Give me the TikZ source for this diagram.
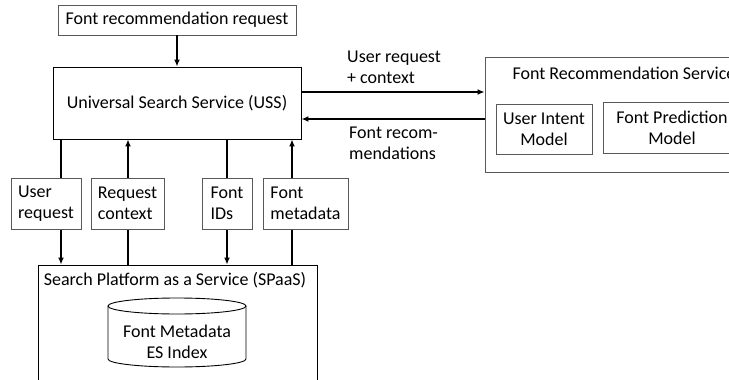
\documentclass[tikz,border=0pt]{standalone}
\usepackage{fontspec}
\setmainfont{Carlito}
\usetikzlibrary{arrows.meta,positioning,backgrounds}
\tikzset{boxy/.style={draw=black,line width=0.9pt,fill=white,inner sep=0},
    greyboxy/.style={draw=black!65,line width=0.9pt,fill=white,inner sep=0},
    labelboxy/.style={greyboxy,align=left,minimum height=51pt},
    flowline/.style={line width=1.6pt,-{Latex[length=7pt,width=6pt]}},
    textonly/.style={inner sep=0,align=left}
}

\begin{document}
\begin{tikzpicture}[x=1pt,y=-1pt,font=\fontsize{18}{21}\selectfont]

\useasboundingbox (0,0) rectangle (729,380);
\clip (0,0) rectangle (729,380);

%% universal search service and request
\node (req) at (177,20) [greyboxy,minimum width=238pt,minimum height=30pt] {Font recommendation request};
\node (uss) at (177,103) [boxy,minimum width=248pt,minimum height=72pt] {Universal Search Service (USS)};

\draw [flowline] (req) -- (uss);

%% font recommendation service

\node (frs) at (627.5,114.5) [greyboxy,minimum width=285pt,minimum height=115pt] {};
\node (frstitle) at (624,73) [textonly] {Font Recommendation Service};
\node (uim) at (544,129) [greyboxy,align=center,minimum width=96pt,minimum height=50pt] {User Intent\\Model};
\node (fpm) at (672,127.5) [greyboxy,align=center,minimum width=138pt,minimum height=51pt] {Font Prediction\\Model};

\draw [flowline] ([yshift=11pt]uss.east) -- ([yshift=11pt]uss.east -| frs.west);
\draw [flowline] ([yshift=-16pt]uss.east -| frs.west) -- ([yshift=-16pt]uss.east);

\node (ctxlabel) at (347,67) [textonly,anchor=west] {User request\\+ context};
\node (reclabel) at (349,143) [textonly,anchor=west] {Font recom-\\mendations};

%% search platform

\node (spaas) at (177.5,342.5) [boxy,minimum width=279pt,minimum height=155pt] {};
\node (spaastitle) at (175,280) [textonly] {Search Platform as a Service (SPaaS)};

\draw [line width=0.9pt,fill=white] (108,306) -- (108,359) arc [start angle=180,end angle=0,x radius=69,y radius=8] -- (246,306);
\draw [line width=0.9pt,fill=white] (177,306) ellipse [x radius=69,y radius=8];
\node (esidx) at (177,342) [textonly,align=center] {Font Metadata\\ES Index};

%% data passed between uss and spaas

\node (ureq) at (46,203.5) [labelboxy,minimum width=70pt] {User\\request};
\node (rctx) at (127.5,203.5) [labelboxy,minimum width=73pt] {Request\\context};
\node (fids) at (227,203.5) [labelboxy,minimum width=50pt] {Font\\IDs};
\node (fmeta) at (305.5,203.5) [labelboxy,minimum width=85pt] {Font\\metadata};

\coordinate (lineA) at (61,0);
\coordinate (lineB) at (128,0);
\coordinate (lineC) at (227,0);
\coordinate (lineD) at (292,0);

\begin{scope}[on background layer]
\draw [flowline] (uss.south -| lineA) -- (spaas.north -| lineA);
\draw [flowline] (spaas.north -| lineB) -- (uss.south -| lineB);
\draw [flowline] (uss.south -| lineC) -- (spaas.north -| lineC);
\draw [flowline] (spaas.north -| lineD) -- (uss.south -| lineD);
\end{scope}

\end{tikzpicture}
\end{document}
